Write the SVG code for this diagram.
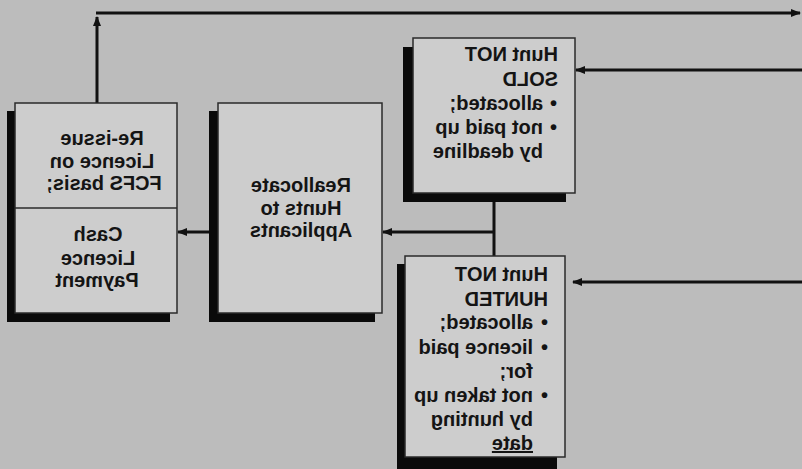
<svg xmlns="http://www.w3.org/2000/svg" width="802" height="469" viewBox="0 0 802 469">
<defs>
<marker id="ah" viewBox="0 0 10 8" refX="9" refY="4" markerWidth="10" markerHeight="8" markerUnits="userSpaceOnUse" orient="auto">
<path d="M0,0 L10,4 L0,8 Z" fill="#111"/>
</marker>
<style>
.bg{fill:#bcbcbc}
.box{fill:#cdcdcd;stroke:#2a2a2a;stroke-width:1.5}
.sh{fill:#0a0a0a}
.con{stroke:#111;stroke-width:3;fill:none}
.t{font-family:"Liberation Sans",Arial,sans-serif;font-weight:bold;font-size:20px;fill:#141414}
.c{text-anchor:middle}
</style>
</defs>
<rect class="bg" x="0" y="0" width="802" height="469"/>

<g id="connectors">
<line class="con" x1="97" y1="103" x2="97" y2="17" marker-end="url(#ah)"/>
<line class="con" x1="96" y1="13" x2="800" y2="13" marker-end="url(#ah)"/>
<line class="con" x1="802" y1="70" x2="576" y2="70" marker-end="url(#ah)"/>
<line class="con" x1="802" y1="282" x2="573" y2="282" marker-end="url(#ah)"/>
<line class="con" x1="494" y1="193" x2="494" y2="256"/>
<line class="con" x1="495" y1="232" x2="383" y2="232" marker-end="url(#ah)"/>
<line class="con" x1="218" y1="232" x2="178" y2="232" marker-end="url(#ah)"/>
</g>

<g id="node-reissue">
<rect class="sh" x="7" y="111" width="163" height="211"/>
<rect class="box" x="15" y="103" width="162" height="210"/>
<line x1="15" y1="208" x2="177" y2="208" stroke="#2a2a2a" stroke-width="1.5"/>
<g transform="matrix(-1 0 0 1 802 0)">
<text class="t c" x="700" y="145">Re-issue</text>
<text class="t c" x="700" y="168">Licence on</text>
<text class="t c" x="698" y="190">FCFS basis;</text>
<text class="t c" x="704" y="241">Cash</text>
<text class="t c" x="704" y="265">Licence</text>
<text class="t c" x="705" y="287">Payment</text>
</g>
</g>

<g id="node-reallocate">
<rect class="sh" x="209" y="111" width="166" height="211"/>
<rect class="box" x="218" y="103" width="164" height="210"/>
<g transform="matrix(-1 0 0 1 802 0)">
<text class="t c" x="501" y="192">Reallocate</text>
<text class="t c" x="501" y="215">Hunts to</text>
<text class="t c" x="501" y="237">Applicants</text>
</g>
</g>

<g id="node-notsold">
<rect class="sh" x="403" y="47" width="163" height="155"/>
<rect class="box" x="413" y="38" width="162" height="155"/>
<g transform="matrix(-1 0 0 1 802 0)">
<text class="t" x="244" y="61">Hunt NOT</text>
<text class="t" x="244" y="86">SOLD</text>
<text class="t" x="245" y="110">•</text>
<text class="t" x="259" y="110">allocated;</text>
<text class="t" x="245" y="134">•</text>
<text class="t" x="259" y="134">not paid up</text>
<text class="t" x="259" y="158">by deadline</text>
</g>
</g>

<g id="node-nothunted">
<rect class="sh" x="397" y="264" width="160" height="205"/>
<rect class="box" x="405" y="256" width="160" height="201"/>
<g transform="matrix(-1 0 0 1 802 0)">
<text class="t" x="254" y="281">Hunt NOT</text>
<text class="t" x="254" y="306">HUNTED</text>
<text class="t" x="254" y="329">•</text>
<text class="t" x="269" y="329">allocated;</text>
<text class="t" x="254" y="354">•</text>
<text class="t" x="269" y="354">licence paid</text>
<text class="t" x="269" y="378">for;</text>
<text class="t" x="254" y="402">•</text>
<text class="t" x="269" y="402">not taken up</text>
<text class="t" x="269" y="426">by hunting</text>
<text class="t" x="269" y="450" text-decoration="underline">date</text>
</g>
</g>
</svg>
